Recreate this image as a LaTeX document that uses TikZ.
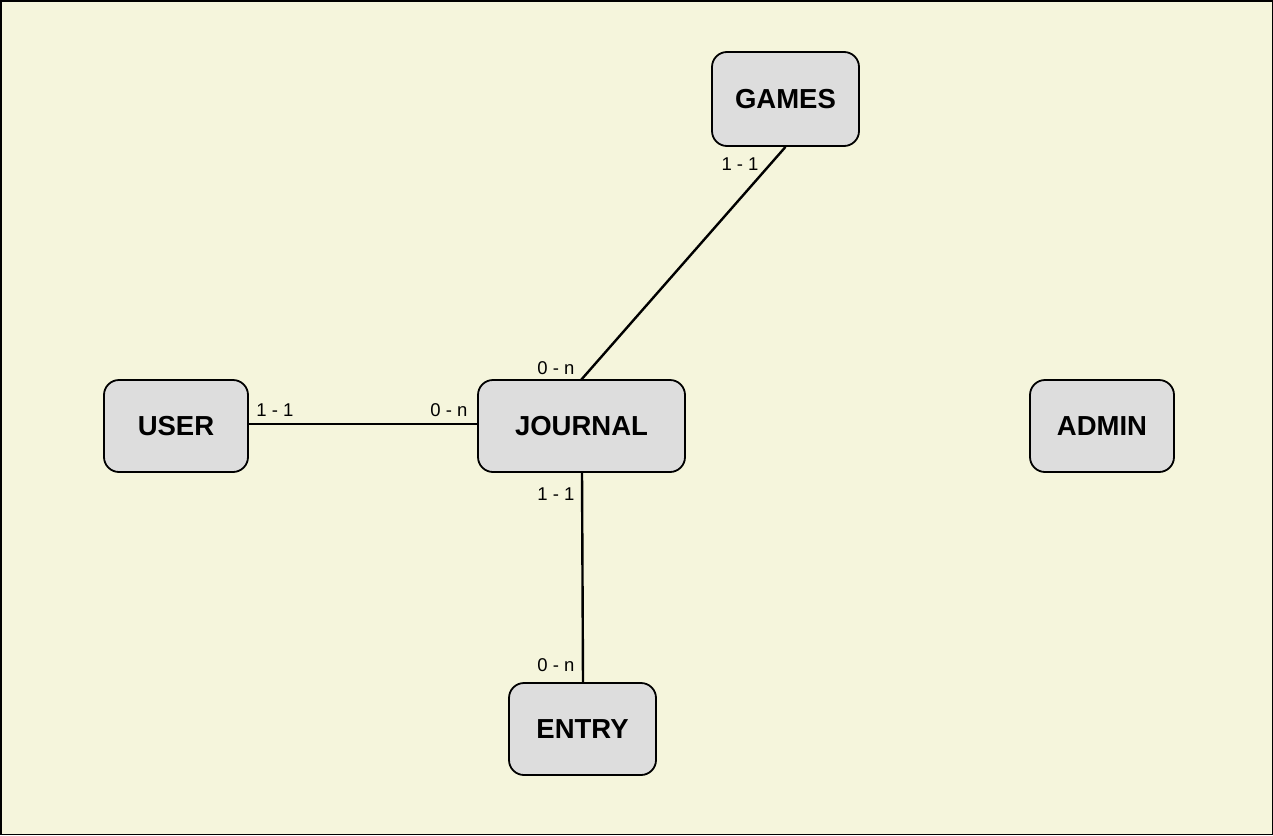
\documentclass[tikz,border=0pt]{standalone}
\usepackage{fontspec}
\setmainfont{Liberation Sans}
\definecolor{bg}{HTML}{F5F5DC}
\definecolor{boxfill}{HTML}{DDDDDD}
\begin{document}
\begin{tikzpicture}[x=1pt,y=-1pt,
  entity/.style={draw=black, line width=1.8pt, fill=boxfill, rounded corners=15pt, inner sep=0pt, font=\fontsize{27.5}{30}\selectfont\bfseries},
  rel/.style={draw=black, line width=2.4pt},
  card/.style={font=\fontsize{18.5}{20}\selectfont, inner sep=0pt}]
\path[use as bounding box, fill=bg, draw=black, line width=1.5pt] (0.75,0.75) rectangle (1272.25,834.25);
\node[entity, minimum width=147pt, minimum height=94pt] (games) at (785.5,99) {GAMES};
\node[entity, minimum width=144pt, minimum height=92pt] (user) at (176,426) {USER};
\node[entity, minimum width=207pt, minimum height=92pt] (journal) at (581.5,426) {JOURNAL};
\node[entity, minimum width=144pt, minimum height=92pt] (admin) at (1102,426) {ADMIN};
\node[entity, minimum width=147pt, minimum height=92pt] (entry) at (582.5,729) {ENTRY};
\coordinate (jtop) at (581,380);
\coordinate (jbot) at (582,472);
\coordinate (etop) at (583,683);
\draw[rel] (games.south) -- (jtop);
\draw[rel] (user.east |- 0,424) -- (journal.west |- 0,424);
\draw[rel] (jbot) -- (etop);
\node[card] (c1) at (740,164) {1 - 1};
\node[card] (c2) at (556,368) {0 - n};
\node[card] (c3) at (275,410) {1 - 1};
\node[card] (c4) at (449,410) {0 - n};
\node[card] (c5) at (556,494) {1 - 1};
\node[card] (c6) at (556,665) {0 - n};
\end{tikzpicture}
\end{document}
